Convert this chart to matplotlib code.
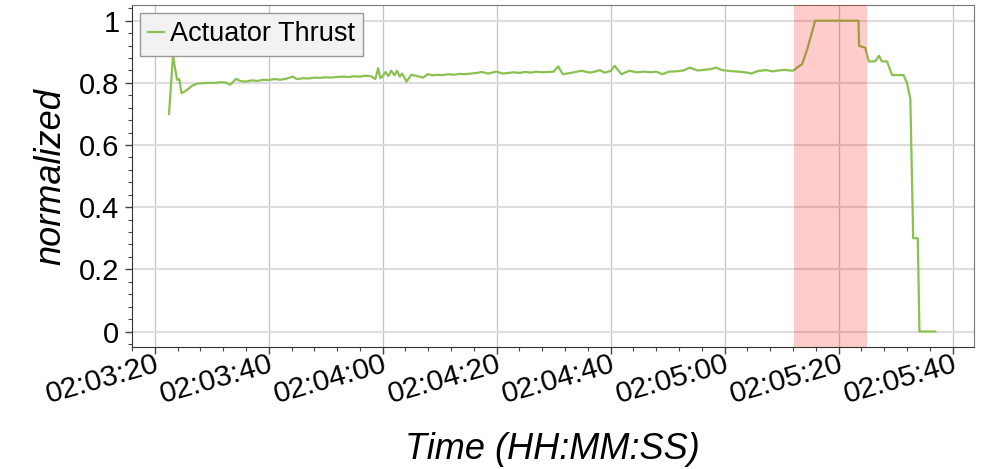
import datetime as dt

import matplotlib
matplotlib.use("Agg")
import matplotlib.pyplot as plt
import matplotlib.dates as mdates
from matplotlib.ticker import MultipleLocator, FixedLocator, FixedFormatter

plt.rcParams['font.family'] = ['Liberation Sans', 'DejaVu Sans']

# start of the log window
t0 = dt.datetime(2024, 1, 1, 2, 3, 20)

# seconds after 02:03:20
t_sec = [2.5, 3.2, 3.9, 4.3, 4.7, 5.5, 6.5, 7.5, 8.5, 9.5, 10.5, 11.5, 12.5, 13.2,
         14.3, 15.0, 16.0, 17.0, 18.0, 19.0, 20.0, 21.0, 22.0, 23.0, 24.2, 25.0,
         26.0, 27.0, 28.0, 29.0, 30.0, 31.0, 32.0, 33.0, 34.0, 35.0, 36.0, 37.0,
         38.0, 38.7, 39.2, 39.6, 39.9, 40.5, 41.0, 41.5, 42.1, 42.5, 43.0, 43.4,
         44.2, 45.0, 46.0, 47.1, 47.9, 48.8, 49.5, 50.5, 51.5, 52.5, 53.5, 54.5,
         55.5, 56.5, 57.4, 58.5, 59.9, 61.1, 62.0, 63.0, 64.0, 65.0, 66.0, 67.0,
         68.0, 69.0, 70.0, 70.8, 71.6, 73.0, 74.9, 76.3, 77.2, 78.1, 78.9, 80.0,
         80.7, 81.9, 83.3, 84.5, 86.0, 87.0, 88.0, 89.1, 90.2, 91.5, 92.8, 93.9,
         95.2, 96.5, 97.5, 98.5, 99.6, 101.0, 102.5, 104.0, 104.7, 105.8, 107.3,
         108.5, 109.5, 110.5, 111.3, 112.0, 112.8, 113.6, 114.5, 115.9, 123.5,
         123.6, 124.7, 125.3, 126.4, 127.1, 127.6, 128.5, 129.4, 131.4, 132.0,
         132.6, 133.1, 133.9, 134.2, 137.0]
thrust = [0.70, 0.887, 0.81, 0.812, 0.767, 0.775, 0.79, 0.798, 0.799, 0.80, 0.80,
          0.802, 0.801, 0.794, 0.813, 0.806, 0.804, 0.808, 0.806, 0.81, 0.809, 0.812,
          0.81, 0.813, 0.82, 0.812, 0.815, 0.814, 0.817, 0.816, 0.818, 0.817, 0.819,
          0.82, 0.819, 0.821, 0.82, 0.823, 0.821, 0.812, 0.847, 0.815, 0.82, 0.835,
          0.822, 0.839, 0.824, 0.839, 0.82, 0.83, 0.804, 0.826, 0.822, 0.817, 0.828,
          0.824, 0.826, 0.825, 0.828, 0.826, 0.829, 0.828, 0.83, 0.832, 0.835, 0.83,
          0.836, 0.83, 0.832, 0.834, 0.832, 0.835, 0.833, 0.836, 0.834, 0.835, 0.836,
          0.853, 0.828, 0.832, 0.839, 0.833, 0.836, 0.841, 0.833, 0.838, 0.855, 0.828,
          0.839, 0.834, 0.836, 0.834, 0.836, 0.828, 0.836, 0.837, 0.84, 0.849, 0.84,
          0.842, 0.844, 0.849, 0.841, 0.838, 0.836, 0.833, 0.83, 0.838, 0.841, 0.837,
          0.84, 0.842, 0.84, 0.839, 0.85, 0.86, 0.908, 1.0, 1.0, 0.919, 0.913, 0.869,
          0.869, 0.887, 0.869, 0.869, 0.825, 0.825, 0.80, 0.748, 0.30, 0.30, 0.0, 0.0]

# highlighted window (seconds after 02:03:20)
span_sec = (112.2, 125.0)
# x range of the axes
xlim_sec = (-4.0, 143.7)

y_ticks = [0, 0.2, 0.4, 0.6, 0.8, 1.0]
y_labels = ['0', '0.2', '0.4', '0.6', '0.8', '1']

times = [t0 + dt.timedelta(seconds=s) for s in t_sec]

fig = plt.figure(figsize=(9.96, 4.69), dpi=100)
ax = fig.add_axes([0.1325, 0.26, 0.845, 0.729])

ax.plot(times, thrust, color='#8bc150', lw=1.6, label='Actuator Thrust', zorder=3)
ax.axvspan(t0 + dt.timedelta(seconds=span_sec[0]), t0 + dt.timedelta(seconds=span_sec[1]),
           color='red', alpha=0.2, lw=0, zorder=4)

ax.set_xlim(t0 + dt.timedelta(seconds=xlim_sec[0]), t0 + dt.timedelta(seconds=xlim_sec[1]))
ax.set_ylim(-0.05, 1.05)

ax.xaxis.set_major_locator(mdates.SecondLocator(bysecond=[0, 20, 40]))
ax.xaxis.set_minor_locator(mdates.SecondLocator(bysecond=range(0, 60, 4)))
ax.xaxis.set_major_formatter(mdates.DateFormatter('%H:%M:%S'))
ax.yaxis.set_major_locator(FixedLocator(y_ticks))
ax.yaxis.set_major_formatter(FixedFormatter(y_labels))
ax.yaxis.set_minor_locator(MultipleLocator(0.04))

ax.tick_params(axis='both', which='major', length=5, width=1, direction='out', color='#444444')
ax.tick_params(axis='y', which='major', labelsize=21, pad=4)
ax.tick_params(axis='x', which='major', labelsize=21.5, pad=-3)
ax.tick_params(axis='both', which='minor', length=3, width=0.8, direction='out', color='#444444')
for lbl in ax.get_xticklabels():
    lbl.set_rotation(16)
    lbl.set_rotation_mode('anchor')
    lbl.set_ha('right')
    lbl.set_va('top')

ax.grid(True, axis='y', which='major', color='#dddddd', lw=1.5, zorder=0)
ax.grid(True, axis='x', which='major', color='#c4c4c4', lw=0.9, zorder=0)
ax.set_axisbelow(True)
for sp in ax.spines.values():
    sp.set_color('#777777')
ax.spines['left'].set_color('#333333')
ax.spines['bottom'].set_color('#333333')

ax.set_xlabel('Time (HH:MM:SS)', fontsize=26, style='italic', labelpad=17)
ax.set_ylabel('normalized', fontsize=26, style='italic', labelpad=8)

leg = ax.legend(loc='upper left', fontsize=19.5, handlelength=0.6, handletextpad=0.2,
                borderaxespad=0.3, borderpad=0.3, fancybox=False, framealpha=1)
leg.get_frame().set_facecolor('#f2f2f2')
leg.get_frame().set_edgecolor('#999999')

fig.savefig('out.png', dpi=100)
